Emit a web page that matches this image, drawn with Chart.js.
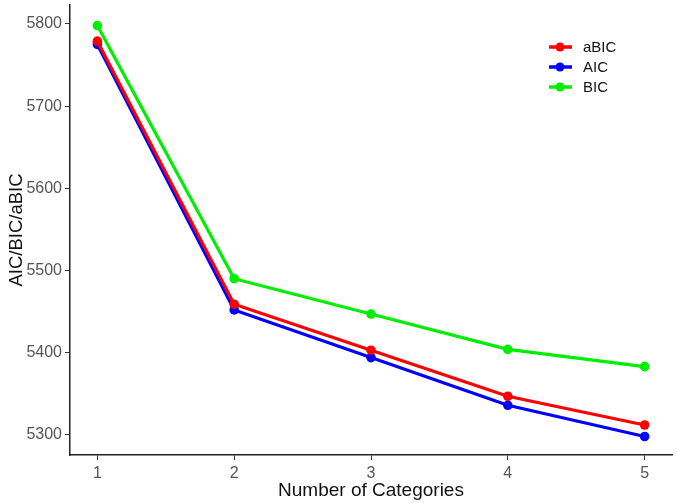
<!DOCTYPE html>
<html>
<head>
<meta charset="utf-8">
<script src="https://cdn.jsdelivr.net/npm/chart.js@4.4.0/dist/chart.umd.min.js"></script>
<style>
  html, body { margin: 0; padding: 0; background: #fff; }
  #wrap { width: 677px; height: 503px; }
</style>
</head>
<body>
<div id="wrap"><canvas id="lineChart" width="677" height="503"></canvas></div>
<script>
// Chart data
const categories = [1, 2, 3, 4, 5];
const seriesNames = ['aBIC', 'AIC', 'BIC'];
const seriesColors = ['#ff0000', '#0000ff', '#00ee00'];
const aBIC = [5779, 5459, 5403, 5347, 5312];
const AIC = [5775, 5452, 5394, 5336, 5298];
const BIC = [5798, 5490, 5447, 5404, 5383];
const yTicks = [5300, 5400, 5500, 5600, 5700, 5800];

const allSeries = [aBIC, AIC, BIC];
const FONT = 'Liberation Sans, Arial, sans-serif';

/**
 * Legend drawn inside the plot, top right, ggplot style
 */
const insideLegend = {
    id: 'insideLegend',
    afterDraw(chart) {
        const c = chart.ctx;
        c.save();
        seriesNames.forEach((name, i) => {
            const y = 47 + i * 20;
            c.strokeStyle = seriesColors[i];
            c.lineWidth = 3.5;
            c.beginPath();
            c.moveTo(549, y);
            c.lineTo(572, y);
            c.stroke();
            c.fillStyle = seriesColors[i];
            c.beginPath();
            c.arc(560, y, 4.5, 0, Math.PI * 2);
            c.fill();
            c.fillStyle = '#111';
            c.font = '15px ' + FONT;
            c.textBaseline = 'middle';
            c.fillText(name, 583, y + 1);
        });
        c.restore();
    }
};

function renderChart() {
    const ctx = document.getElementById('lineChart');
    new Chart(ctx, {
        type: 'line',
        data: {
            datasets: allSeries.map((values, i) => ({
                label: seriesNames[i],
                data: categories.map((x, j) => ({ x: x, y: values[j] })),
                borderColor: seriesColors[i],
                backgroundColor: seriesColors[i],
                borderWidth: 3.2,
                pointRadius: 4.8,
                pointBorderWidth: 0,
                tension: 0
            }))
        },
        options: {
            responsive: false,
            animation: false,
            layout: { padding: { top: 5, right: 5, left: 6, bottom: 1 } },
            plugins: {
                legend: { display: false },
                tooltip: { enabled: false }
            },
            scales: {
                x: {
                    type: 'linear',
                    min: 0.8,
                    max: 5.2,
                    afterBuildTicks: (axis) => { axis.ticks = categories.map(v => ({ value: v })); },
                    afterFit: (axis) => { axis.height = 47; },
                    grid: { drawOnChartArea: false, drawTicks: true, tickLength: 5, color: '#333' },
                    border: { display: true, color: '#222', width: 1.5 },
                    ticks: { color: '#555', font: { size: 16, family: FONT }, padding: 4, callback: (v) => String(v) },
                    title: { display: true, text: 'Number of Categories', color: '#111', font: { size: 19, family: FONT }, padding: { top: 1, bottom: 0 } }
                },
                y: {
                    min: 5275.5,
                    max: 5823,
                    afterBuildTicks: (axis) => { axis.ticks = yTicks.map(v => ({ value: v })); },
                    afterFit: (axis) => { axis.width = 64; axis.paddingTop = 0; axis.paddingBottom = 0; },
                    grid: { drawOnChartArea: false, drawTicks: true, tickLength: 5, color: '#333' },
                    border: { display: true, color: '#222', width: 1.5 },
                    ticks: { color: '#555', font: { size: 16, family: FONT }, padding: 3, callback: (v) => String(v) },
                    title: { display: true, text: 'AIC/BIC/aBIC', color: '#111', font: { size: 18.5, family: FONT }, padding: { top: 0, bottom: 2 } }
                }
            }
        },
        plugins: [insideLegend]
    });
}

document.addEventListener('DOMContentLoaded', () => {
    renderChart();
});
</script>
</body>
</html>
